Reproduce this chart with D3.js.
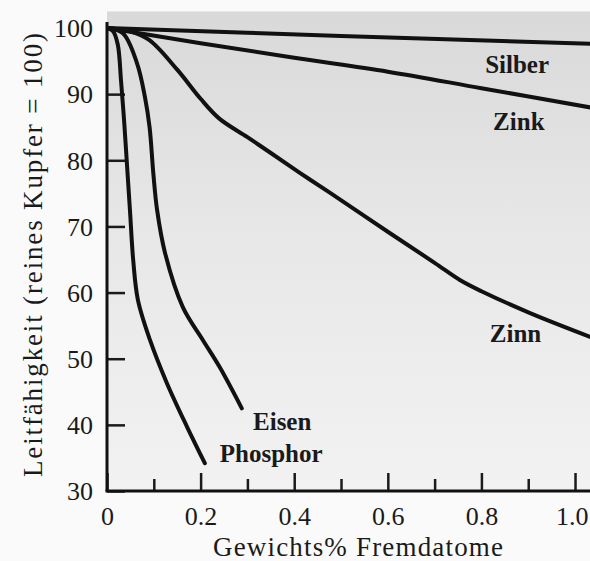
<!DOCTYPE html>
<html lang="de">
<head>
  <meta charset="UTF-8">
  <title>Leitfähigkeit von Kupfer mit Fremdatomen</title>
  <script src="https://d3js.org/d3.v7.min.js"></script>
  <style>
    body { margin: 0; background: #fafafa; }
    svg { display: block; font-family: "Liberation Serif", "DejaVu Serif", serif; }
    .tick text { font-family: "Liberation Serif", "DejaVu Serif", serif; font-size: 26px; fill: #1a1a1a; }
    .lbl { font-size: 25px; font-weight: bold; fill: #1a1a1a; }
    .title { font-size: 27px; fill: #1a1a1a; }
  </style>
</head>
<body>
  <svg width="590" height="561"></svg>
  <script>
    // values: [Gewichts%, Leitfähigkeit]
    const silber = [[0, 100], [0.5, 98.8], [1.04, 97.6]];
    const zink = [[0, 100], [0.2, 97.7], [0.4, 95.5], [0.6, 93.4], [0.8, 90.9], [1.04, 87.9]];
    const zinn = [[0, 100], [0.049, 99.5], [0.09, 98.2], [0.15, 93.7], [0.2, 89.3], [0.24, 86.3],
                  [0.3, 83.5], [0.35, 81.1], [0.412, 78.1], [0.476, 75.1], [0.6, 69.2], [0.7, 64.5],
                  [0.754, 61.9], [0.8, 60.2], [0.904, 56.9], [1.04, 53.1]];
    const eisen = [[0, 100], [0.034, 99.2], [0.064, 94.7], [0.081, 89.6], [0.091, 85],
                   [0.099, 78], [0.107, 72.5], [0.124, 66], [0.162, 57.8],
                   [0.205, 52.8], [0.241, 48.7], [0.288, 42.5]];
    const phosphor = [[0, 100], [0.013, 99.5], [0.023, 97.5], [0.03, 92], [0.037, 85.5], [0.043, 79],
                      [0.049, 72.5], [0.056, 64.9], [0.066, 58.9], [0.092, 52.8],
                      [0.128, 46.3], [0.171, 39.7], [0.209, 34.2]];

    const series = [silber, zink, zinn, eisen, phosphor];
    const labelNames = ["Silber", "Zink", "Zinn", "Eisen", "Phosphor"];
    // label anchor in data units (left edge, baseline)
    const labelPos = [[0.808, 93.2], [0.825, 84.6], [0.818, 52.6], [0.312, 39.2], [0.241, 34.4]];

    const yTicks = [30, 40, 50, 60, 70, 80, 90, 100];
    const xMajor = [0, 0.2, 0.4, 0.6, 0.8, 1.0];
    const xMinor = [0.1, 0.3, 0.5, 0.7, 0.9];

    const width = 590, height = 561;
    const marginLeft = 107, axisBottom = 491, plotTop = 28;

    const svg = d3.select("svg");

    const x = d3.scaleLinear().domain([0, 1.032]).range([marginLeft, width]);
    const y = d3.scaleLinear().domain([30, 100]).range([axisBottom, plotTop]);

    // scanned-paper tint of the plot area
    const defs = svg.append("defs");
    const grad = defs.append("linearGradient")
      .attr("id", "paper").attr("x1", 0).attr("y1", 0).attr("x2", 0).attr("y2", 1);
    grad.append("stop").attr("offset", "0%").attr("stop-color", "#d9d9d9");
    grad.append("stop").attr("offset", "45%").attr("stop-color", "#e7e7e7");
    grad.append("stop").attr("offset", "100%").attr("stop-color", "#f2f2f2");

    svg.append("rect")
      .attr("x", x(0)).attr("y", y(102.5))
      .attr("width", x(1.032) - x(0)).attr("height", y(30) - y(102.5))
      .attr("fill", "url(#paper)");

    defs.append("clipPath").attr("id", "clip")
      .append("rect")
      .attr("x", x(0)).attr("y", 0)
      .attr("width", x(1.032) - x(0)).attr("height", y(30));

    // axes, ticks pointing inward
    const yAxis = d3.axisLeft(y).tickValues(yTicks).tickSize(-18).tickPadding(14).tickSizeOuter(0);
    const gy = svg.append("g").attr("transform", `translate(${marginLeft},0)`).call(yAxis);

    const xMinorAxis = d3.axisBottom(x).tickValues(xMinor).tickSize(-12).tickFormat("");
    const gxm = svg.append("g").attr("transform", `translate(0,${axisBottom})`).call(xMinorAxis);

    const xAxis = d3.axisBottom(x).tickValues(xMajor).tickSize(-18).tickPadding(16)
      .tickFormat(d => d === 0 ? "0" : d3.format(".1f")(d)).tickSizeOuter(0);
    const gx = svg.append("g").attr("transform", `translate(0,${axisBottom})`).call(xAxis);

    [gy, gxm, gx].forEach(g => {
      g.select(".domain").remove();
      g.selectAll(".tick line").attr("stroke", "#1a1a1a").attr("stroke-width", 2.5);
    });
    gx.selectAll(".tick text").attr("dy", "0.7em");
    // the last label sits at the paper edge in the scan
    gx.selectAll(".tick text").filter(d => d === 1).attr("text-anchor", "end").attr("dx", "0.5em");
    gy.selectAll(".tick text").attr("dy", "0.34em");

    svg.append("line")
      .attr("x1", x(0)).attr("x2", x(0)).attr("y1", y(30)).attr("y2", y(100.9))
      .attr("stroke", "#111").attr("stroke-width", 3);
    svg.append("line")
      .attr("x1", x(0) - 1.5).attr("x2", x(1.032)).attr("y1", y(30)).attr("y2", y(30))
      .attr("stroke", "#111").attr("stroke-width", 3);

    // curves
    const line = d3.line()
      .x(d => x(d[0]))
      .y(d => y(d[1]))
      .curve(d3.curveCatmullRom.alpha(0.5));

    svg.append("g").attr("clip-path", "url(#clip)")
      .selectAll("path")
      .data(series)
      .join("path")
      .attr("d", line)
      .attr("fill", "none")
      .attr("stroke", "#111")
      .attr("stroke-width", 4)
      .attr("stroke-linecap", "round");

    svg.selectAll(".lbl")
      .data(labelNames)
      .join("text")
      .attr("class", "lbl")
      .attr("x", (d, i) => x(labelPos[i][0]))
      .attr("y", (d, i) => y(labelPos[i][1]))
      .text(d => d);

    // axis titles
    svg.append("text")
      .attr("class", "title")
      .attr("x", 358)
      .attr("y", 556)
      .attr("text-anchor", "middle")
      .attr("textLength", 290)
      .attr("lengthAdjust", "spacing")
      .text("Gewichts% Fremdatome");

    svg.append("text")
      .attr("class", "title")
      .attr("transform", "translate(42,255) rotate(-90)")
      .attr("text-anchor", "middle")
      .attr("textLength", 444)
      .attr("lengthAdjust", "spacing")
      .text("Leitfähigkeit (reines Kupfer = 100)");
  </script>
</body>
</html>
